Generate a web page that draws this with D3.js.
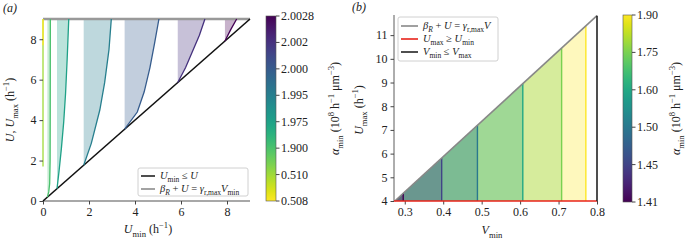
<!DOCTYPE html>
<html>
<head>
<meta charset="utf-8">
<script src="https://cdn.jsdelivr.net/npm/d3@7"></script>
<style>
body { margin: 0; background: #fff; }
svg text { font-family: "Liberation Serif", "DejaVu Serif", serif; fill: #222; }
</style>
</head>
<body>
<div id="chart_wrapper"></div>
<script>
// ---- data, panel (a) ----
var alphaA = ["0.508", "0.510", "1.900", "1.975", "1.995", "2.000", "2.002", "2.0028"];
// each curve: [Umin, U] points, from the diagonal up to U = 9
var curvesA = [
    [[0, 7.7], [0, 9]],
    [[0, 1.7], [0, 9]],
    [[0.19, 0.19], [0.25, 0.45], [0.29, 0.85], [0.31, 2], [0.315, 4.5], [0.32, 9]],
    [[0.61, 0.61], [0.7, 1.5], [0.8, 2.6], [0.9, 3.9], [0.98, 5.3], [1.05, 7], [1.12, 9]],
    [[1.77, 1.77], [2.1, 2.85], [2.47, 4.5], [2.68, 5.85], [2.87, 7.5], [2.97, 9]],
    [[3.55, 3.55], [4.1, 4.4], [4.4, 5.4], [4.65, 6.6], [4.85, 7.8], [5.04, 9]],
    [[5.86, 5.86], [6.2, 6.6], [6.53, 7.48], [6.8, 8.2], [7.04, 9]],
    [[7.91, 7.91], [8.15, 8.45], [8.42, 9]]
];
var ticksA = [0, 2, 4, 6, 8];

// ---- data, panel (b) ----
var alphaB = ["1.41", "1.45", "1.50", "1.60", "1.75", "1.90"];
var vMinB = [0.296, 0.396, 0.489, 0.607, 0.708, 0.771];
var grayLineB = [[0.274, 4], [0.8, 11.82]];  // beta_R + U = gamma V
var vMaxB = 0.8;
var uMinB = 4;
var ticksBx = [0.3, 0.4, 0.5, 0.6, 0.7, 0.8];
var ticksBy = [4, 5, 6, 7, 8, 9, 10, 11];

var svg = d3.select("#chart_wrapper").append("svg").attr("width", 687).attr("height", 242);

// rich text helper: parts = [text, style] with style i (italic), sub, sup, isub
function rich(sel, parts, fs) {
    var cur = 0;
    parts.forEach(function(p) {
        var st = p[1] || "";
        var target = st.indexOf("sub") >= 0 ? fs * 0.3 : (st.indexOf("sup") >= 0 ? -fs * 0.38 : 0);
        var t = sel.append("tspan").text(p[0]).attr("dy", target - cur);
        if (st === "i" || st === "isub") t.style("font-style", "italic");
        if (st.indexOf("sub") >= 0 || st.indexOf("sup") >= 0) t.style("font-size", (fs * 0.72) + "px");
        cur = target;
    });
}

function colA(i) { return d3.interpolateViridis(1 - i / (alphaA.length - 1)); }
function colB(i) { return d3.interpolateViridis(i / (alphaB.length - 1)); }

// ================= panel (a) =================
var xA = d3.scaleLinear().domain([0, 9]).range([43, 250]);
var yA = d3.scaleLinear().domain([0, 9]).range([201, 19]);
var gA = svg.append("g");
var lineA = d3.line().x(function(d) { return xA(d[0]); }).y(function(d) { return yA(d[1]); });

// shaded regions
curvesA.forEach(function(c, i) {
    var poly = c.concat([[c[0][0], 9]]);
    gA.append("path").attr("d", lineA(poly) + "Z")
        .attr("fill", colA(i)).attr("fill-opacity", 0.3).attr("stroke", "none");
});
// bottom spine
gA.append("line").attr("x1", xA(0)).attr("x2", xA(9)).attr("y1", yA(0)).attr("y2", yA(0))
    .attr("stroke", "#a8a8a8").attr("stroke-width", 1.8);
// top gray line beta_R + U = gamma V_min
gA.append("line").attr("x1", xA(0)).attr("x2", xA(9)).attr("y1", yA(9)).attr("y2", yA(9))
    .attr("stroke", "#999").attr("stroke-width", 2.4);
// diagonal U_min <= U
gA.append("line").attr("x1", xA(0)).attr("x2", xA(9)).attr("y1", yA(0)).attr("y2", yA(9))
    .attr("stroke", "#111").attr("stroke-width", 1.6);
// curves, yellow last so it stays on top
[1, 0, 2, 3, 4, 5, 6, 7].forEach(function(i) {
    gA.append("path").attr("d", lineA(curvesA[i])).attr("fill", "none")
        .attr("stroke", colA(i)).attr("stroke-width", 1.3);
});

// axes
var axA = gA.append("g").attr("transform", "translate(0," + yA(0) + ")")
    .call(d3.axisBottom(xA).tickValues(ticksA).tickSize(3.5).tickPadding(3));
axA.select(".domain").remove();
var ayA = gA.append("g").attr("transform", "translate(" + xA(0) + ",0)")
    .call(d3.axisLeft(yA).tickValues(ticksA).tickSize(3.5).tickPadding(3));
ayA.select(".domain").remove();
[axA, ayA].forEach(function(a) {
    a.selectAll("text").style("font-size", "12px").style("font-family", "Liberation Serif").attr("fill", "#222");
    a.selectAll(".tick line").attr("stroke", "#444");
});

rich(svg.append("text").attr("x", 148).attr("y", 233).attr("text-anchor", "middle").style("font-size", "12px"),
    [["U", "i"], ["min", "sub"], [" (h"], ["−1", "sup"], [")"]], 12);
rich(svg.append("text").attr("transform", "translate(14,110) rotate(-90)").attr("text-anchor", "middle").style("font-size", "12px"),
    [["U", "i"], [", "], ["U", "i"], ["max", "sub"], [" (h"], ["−1", "sup"], [")"]], 12);
svg.append("text").attr("x", 3).attr("y", 12).style("font-size", "12px").style("font-style", "italic").text("(a)");

// legend (a)
var lgA = svg.append("g").attr("transform", "translate(138,168)");
lgA.append("rect").attr("width", 110).attr("height", 28).attr("rx", 2)
    .attr("fill", "#fff").attr("fill-opacity", 0.85).attr("stroke", "#d0d0d0");
lgA.append("line").attr("x1", 3).attr("x2", 17).attr("y1", 8).attr("y2", 8).attr("stroke", "#222").attr("stroke-width", 1.6);
lgA.append("line").attr("x1", 3).attr("x2", 17).attr("y1", 21).attr("y2", 21).attr("stroke", "#999").attr("stroke-width", 1.8);
rich(lgA.append("text").attr("x", 22).attr("y", 11).style("font-size", "10.5px"),
    [["U", "i"], ["min", "sub"], [" ≤ "], ["U", "i"]], 10.5);
rich(lgA.append("text").attr("x", 22).attr("y", 24).style("font-size", "10.5px"),
    [["β", "i"], ["R", "isub"], [" + "], ["U", "i"], [" = "], ["γ", "i"], ["r,max", "sub"], ["V", "i"], ["min", "sub"]], 10.5);

// colorbars
function colorbar(x0, y0, w, h, labels, colf, id, lx) {
    var grad = svg.append("defs").append("linearGradient").attr("id", id)
        .attr("x1", 0).attr("y1", 1).attr("x2", 0).attr("y2", 0);
    d3.range(0, 1.0001, 0.05).forEach(function(t) {
        grad.append("stop").attr("offset", t).attr("stop-color", colf(t));
    });
    svg.append("rect").attr("x", x0).attr("y", y0).attr("width", w).attr("height", h)
        .attr("fill", "url(#" + id + ")").attr("stroke", "#555").attr("stroke-width", 0.6);
    var ys = d3.scaleLinear().domain([0, labels.length - 1]).range([y0 + h, y0]);
    labels.forEach(function(l, i) {
        svg.append("line").attr("x1", x0 + w).attr("x2", x0 + w + 3.5).attr("y1", ys(i)).attr("y2", ys(i)).attr("stroke", "#444");
        svg.append("text").attr("x", x0 + w + 5).attr("y", ys(i) + 4).style("font-size", "12px").text(l);
    });
    rich(svg.append("text").attr("transform", "translate(" + lx + "," + (y0 + h / 2) + ") rotate(-90)")
        .attr("text-anchor", "middle").style("font-size", "12px"),
        [["α", "i"], ["min", "sub"], [" (10"], ["8", "sup"], [" h"], ["−1", "sup"], [" μm"], ["−3", "sup"], [")"]], 12);
}
colorbar(266, 16, 10, 185, alphaA, function(t) { return d3.interpolateViridis(1 - t); }, "gradA", 339);

// ================= panel (b) =================
var xB = d3.scaleLinear().domain([0.272, 0.8]).range([394, 597]);
var yB = d3.scaleLinear().domain([4, 11.85]).range([201, 15]);
var gB = svg.append("g");
var lineB = d3.line().x(function(d) { return xB(d[0]); }).y(function(d) { return yB(d[1]); });
var uOnGray = d3.scaleLinear().domain([grayLineB[0][0], grayLineB[1][0]]).range([grayLineB[0][1], grayLineB[1][1]]);

// cumulative shaded regions, widest first
for (var i = vMinB.length - 1; i >= 0; i--) {
    var v = vMinB[i];
    var poly = [grayLineB[0], [v, uOnGray(v)], [v, uMinB]];
    gB.append("path").attr("d", lineB(poly) + "Z").attr("fill", colB(i)).attr("fill-opacity", 0.3);
}
vMinB.forEach(function(v, i) {
    gB.append("line").attr("x1", xB(v)).attr("x2", xB(v)).attr("y1", yB(uMinB)).attr("y2", yB(uOnGray(v)))
        .attr("stroke", colB(i)).attr("stroke-width", 1.4);
});
// left spine
gB.append("line").attr("x1", xB(0.272)).attr("x2", xB(0.272)).attr("y1", yB(11.85)).attr("y2", yB(4))
    .attr("stroke", "#333").attr("stroke-width", 0.8);
var axB = gB.append("g").attr("transform", "translate(0," + yB(4) + ")")
    .call(d3.axisBottom(xB).tickValues(ticksBx).tickFormat(d3.format(".1f")).tickSize(3.5).tickPadding(3));
axB.select(".domain").remove();
var ayB = gB.append("g").attr("transform", "translate(" + xB(0.272) + ",0)")
    .call(d3.axisLeft(yB).tickValues(ticksBy).tickSize(3.5).tickPadding(3));
ayB.select(".domain").remove();
[axB, ayB].forEach(function(a) {
    a.selectAll("text").style("font-size", "12px").style("font-family", "Liberation Serif").attr("fill", "#222");
    a.selectAll(".tick line").attr("stroke", "#444");
});
// gray line, red U_max >= U_min, black V_min <= V_max
gB.append("path").attr("d", lineB(grayLineB)).attr("stroke", "#888").attr("stroke-width", 1.6).attr("fill", "none");
gB.append("line").attr("x1", xB(0.272)).attr("x2", xB(vMaxB)).attr("y1", yB(uMinB)).attr("y2", yB(uMinB))
    .attr("stroke", "#e8231a").attr("stroke-width", 1.6);
gB.append("line").attr("x1", xB(vMaxB)).attr("x2", xB(vMaxB)).attr("y1", yB(uMinB)).attr("y2", yB(grayLineB[1][1]))
    .attr("stroke", "#222").attr("stroke-width", 1.6);

rich(svg.append("text").attr("x", 492).attr("y", 234).attr("text-anchor", "middle").style("font-size", "12px"),
    [["V", "i"], ["min", "sub"]], 12);
rich(svg.append("text").attr("transform", "translate(363,110) rotate(-90)").attr("text-anchor", "middle").style("font-size", "12px"),
    [["U", "i"], ["max", "sub"], [" (h"], ["−1", "sup"], [")"]], 12);
svg.append("text").attr("x", 352).attr("y", 11).style("font-size", "12px").style("font-style", "italic").text("(b)");

// legend (b)
var lgB = svg.append("g").attr("transform", "translate(398,17)");
lgB.append("rect").attr("width", 100).attr("height", 44).attr("rx", 2)
    .attr("fill", "#fff").attr("fill-opacity", 0.85).attr("stroke", "#d0d0d0");
[["#888", 9], ["#e8231a", 22], ["#222", 35]].forEach(function(d) {
    lgB.append("line").attr("x1", 3).attr("x2", 20).attr("y1", d[1]).attr("y2", d[1]).attr("stroke", d[0]).attr("stroke-width", 1.6);
});
rich(lgB.append("text").attr("x", 25).attr("y", 12).style("font-size", "10.5px"),
    [["β", "i"], ["R", "isub"], [" + "], ["U", "i"], [" = "], ["γ", "i"], ["r,max", "sub"], ["V", "i"]], 10.5);
rich(lgB.append("text").attr("x", 25).attr("y", 25).style("font-size", "10.5px"),
    [["U", "i"], ["max", "sub"], [" ≥ "], ["U", "i"], ["min", "sub"]], 10.5);
rich(lgB.append("text").attr("x", 25).attr("y", 38).style("font-size", "10.5px"),
    [["V", "i"], ["min", "sub"], [" ≤ "], ["V", "i"], ["max", "sub"]], 10.5);

colorbar(623, 15, 9, 187, alphaB, function(t) { return d3.interpolateViridis(t); }, "gradB", 680);
</script>
</body>
</html>
